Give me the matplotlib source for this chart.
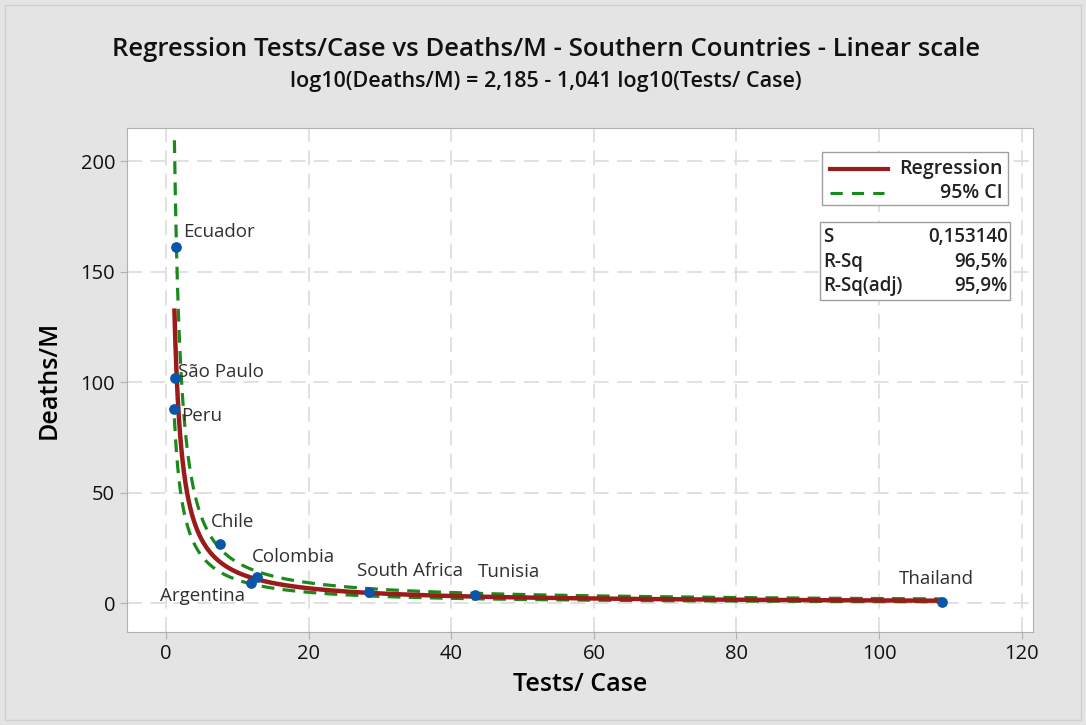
import numpy as np
import matplotlib.pyplot as plt
from matplotlib.patches import Rectangle
from matplotlib.lines import Line2D

plt.rcParams['font.family'] = ['Open Sans', 'DejaVu Sans']

countries = ['Ecuador', 'São Paulo', 'Peru', 'Chile', 'Colombia', 'Argentina',
             'South Africa', 'Tunisia', 'Thailand']
tests_per_case = [1.4, 1.3, 1.15, 7.6, 12.8, 11.9, 28.5, 43.3, 108.8]
deaths_per_m = [161, 102, 88, 26.7, 12, 9, 5, 3.6, 0.5]

# label offsets in points (dx, dy, ha)
label_pos = {
    'Ecuador': (5, 11, 'left'),
    'São Paulo': (2, 4, 'left'),
    'Peru': (5, -5, 'left'),
    'Chile': (-7, 16, 'left'),
    'Colombia': (-4, 14, 'left'),
    'Argentina': (-4, -9, 'right'),
    'South Africa': (-9, 15, 'left'),
    'Tunisia': (2, 17, 'left'),
    'Thailand': (-31, 17, 'left'),
}

b0, b1 = 2.185, -1.041
s_val = 0.153140
r_sq = '96,5%'
r_sq_adj = '95,9%'
t_crit = 2.365  # t(0.975, 7)

fig = plt.figure(figsize=(10.86, 7.25), dpi=100, facecolor='#e4e4e4')
ax = fig.add_axes([127 / 1086, 1 - 632 / 725, 906 / 1086, 504 / 725])

lx = np.log10(tests_per_case)
xs = np.linspace(lx.min(), lx.max(), 400)
fit = b0 + b1 * xs
se = s_val * np.sqrt(1 / len(lx) + (xs - lx.mean()) ** 2 / np.sum((lx - lx.mean()) ** 2))
upper = fit + t_crit * se
lower = fit - t_crit * se

ax.plot(10 ** xs, 10 ** fit, color='#9b1b1b', lw=3.2, zorder=3)
ax.plot(10 ** xs, 10 ** upper, color='#1a8a1a', lw=2.3, ls=(0, (4, 2.6)), zorder=2)
ax.plot(10 ** xs, 10 ** lower, color='#1a8a1a', lw=2.3, ls=(0, (4, 2.6)), zorder=2)
ax.scatter(tests_per_case, deaths_per_m, s=45, color='#0a56a8', zorder=4)

for name, x, y in zip(countries, tests_per_case, deaths_per_m):
    dx, dy, ha = label_pos[name]
    ax.annotate(name, (x, y), xytext=(dx, dy), textcoords='offset points',
                fontsize=13.5, color='#303030', ha=ha, va='center')

ax.set_xlim(-5.5, 121.6)
ax.set_ylim(-13, 215)
ax.set_xticks(range(0, 121, 20))
ax.set_yticks(range(0, 201, 50))
ax.grid(True, color='#dcdcdc', ls=(0, (9, 5)), lw=1.2)
ax.set_axisbelow(True)
for sp in ax.spines.values():
    sp.set_color('#b0b0b0')
ax.tick_params(colors='#b0b0b0', labelcolor='#111111', labelsize=14.5, length=5)

ax.set_xlabel('Tests/ Case', fontsize=18, fontweight='semibold', labelpad=6)
ax.set_ylabel('Deaths/M', fontsize=18, fontweight='semibold', labelpad=14)

fig.text(0.503, 1 - 50 / 725, 'Regression Tests/Case vs Deaths/M - Southern Countries - Linear scale',
         ha='center', va='center', fontsize=18.5, fontweight='semibold', color='#111111')
fig.text(0.503, 1 - 82 / 725, 'log10(Deaths/M) = 2,185 - 1,041 log10(Tests/ Case)',
         ha='center', va='center', fontsize=15.5, fontweight='semibold', color='#111111')

# legend box
tr = ax.transAxes
ax.add_patch(Rectangle((0.767, 0.847), 0.205, 0.105, transform=tr, fill=True,
                       facecolor='white', edgecolor='#a0a0a0', lw=1, zorder=5))
ax.add_line(Line2D([0.776, 0.84], [0.919, 0.919], transform=tr, color='#9b1b1b', lw=3, zorder=6))
ax.add_line(Line2D([0.776, 0.836], [0.871, 0.871], transform=tr, color='#1a8a1a', lw=2.2,
                   ls=(0, (4, 3)), zorder=6))
ax.text(0.966, 0.919, 'Regression', transform=tr, ha='right', va='center', fontsize=14,
        fontweight='semibold', color='#222222', zorder=6)
ax.text(0.966, 0.871, '95% CI', transform=tr, ha='right', va='center', fontsize=14,
        fontweight='semibold', color='#222222', zorder=6)

# stats box
ax.add_patch(Rectangle((0.765, 0.659), 0.21, 0.155, transform=tr, fill=True,
                       facecolor='white', edgecolor='#a0a0a0', lw=1, zorder=5))
rows = [('S', f'{s_val:.6f}'.replace('.', ',')), ('R-Sq', r_sq), ('R-Sq(adj)', r_sq_adj)]
for i, (k, v) in enumerate(rows):
    yy = 0.784 - i * 0.049
    ax.text(0.768, yy, k, transform=tr, ha='left', va='center', fontsize=13.5,
            fontweight='semibold', color='#222222', zorder=6)
    ax.text(0.972, yy, v, transform=tr, ha='right', va='center', fontsize=13.5,
            fontweight='semibold', color='#222222', zorder=6)

fig.add_artist(Rectangle((5 / 1086, 5 / 725), 1 - 10 / 1086, 1 - 10 / 725, transform=fig.transFigure,
                         fill=False, edgecolor='#cfcfcf', lw=1))

fig.savefig('out.png', dpi=100, facecolor=fig.get_facecolor())
